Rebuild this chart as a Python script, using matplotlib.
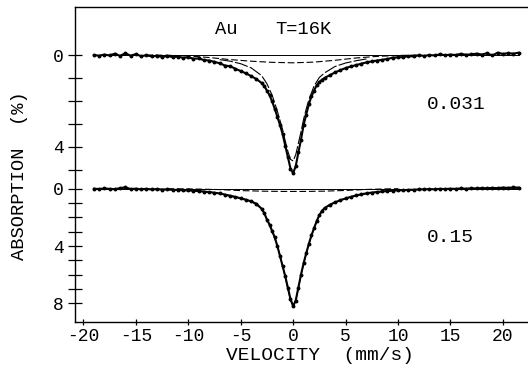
import numpy as np
import matplotlib
matplotlib.use("Agg")
import matplotlib.pyplot as plt

""" ==== DANE ODCZYTANE Z WYKRESU ==== """

# widmo górne (0.031) - prędkość [mm/s], absorpcja [%]
v_up = [-19.0, -18.5, -18.0, -17.5, -17.0, -16.5, -16.0, -15.5, -15.0, -14.5, -14.0, -13.5,
        -13.0, -12.5, -12.0, -11.5, -11.0, -10.5, -10.0, -9.5, -9.0, -8.5, -8.0, -7.5,
        -7.0, -6.5, -6.0, -5.5, -5.0, -4.5, -4.0, -3.5, -3.0, -2.75, -2.5, -2.25, -2.0,
        -1.75, -1.5, -1.25, -1.0, -0.75, -0.5, -0.25, 0.0, 0.25, 0.5, 0.75, 1.0, 1.25,
        1.5, 1.75, 2.0, 2.25, 2.5, 2.75, 3.0, 3.5, 4.0, 4.5, 5.0, 5.5, 6.0, 6.5, 7.0,
        7.5, 8.0, 8.5, 9.0, 9.5, 10.0, 10.5, 11.0, 11.5, 12.0, 12.5, 13.0, 13.5, 14.0,
        14.5, 15.0, 15.5, 16.0, 16.5, 17.0, 17.5, 18.0, 18.5, 19.0, 19.5, 20.0, 20.5,
        21.0, 21.5]
a_up = [0.00, 0.03, -0.02, 0.02, -0.06, 0.04, -0.08, 0.03, -0.04, 0.05, 0.01, 0.06,
        0.03, 0.08, 0.04, 0.09, 0.07, 0.12, 0.10, 0.16, 0.15, 0.22, 0.24, 0.30,
        0.36, 0.46, 0.49, 0.60, 0.70, 0.80, 0.92, 1.05, 1.22, 1.35, 1.55, 1.75, 2.02,
        2.35, 2.70, 3.05, 3.45, 3.95, 4.45, 4.95, 5.15, 4.85, 4.25, 3.70, 3.05, 2.60,
        2.15, 1.80, 1.55, 1.32, 1.18, 1.08, 1.00, 0.88, 0.76, 0.66, 0.57, 0.50, 0.44,
        0.38, 0.32, 0.28, 0.24, 0.21, 0.17, 0.12, 0.10, 0.09, 0.05, 0.06, 0.01, 0.04,
        0.00, 0.02, -0.03, 0.01, -0.02, 0.00, -0.05, -0.01, -0.03, -0.06, -0.02, -0.08,
        0.02, -0.10, -0.05, -0.08, -0.06, -0.10]

# krzywa wąska (linia przerywana długa), górne widmo
v_up_fit = [-7.0, -6.0, -5.0, -4.0, -3.0, -2.5, -2.0, -1.5, -1.25, -1.0, -0.75, -0.5, -0.25,
            0.0, 0.25, 0.5, 0.75, 1.0, 1.25, 1.5, 2.0, 2.5, 3.0, 4.0, 5.0, 6.0, 7.0]
a_up_fit = [0.20, 0.27, 0.38, 0.56, 0.90, 1.25, 1.75, 2.45, 2.85, 3.25, 3.75, 4.20, 4.55,
            4.62, 4.35, 3.85, 3.35, 2.80, 2.35, 1.95, 1.35, 0.98, 0.78, 0.50, 0.35, 0.25, 0.17]

# szeroka składowa (krótkie kreski), górne widmo
v_up_broad = [-14.0, -12.0, -10.0, -8.0, -6.0, -4.0, -2.0, 0.0, 2.0, 4.0, 6.0, 8.0, 10.0, 12.0]
a_up_broad = [0.0, 0.01, 0.04, 0.11, 0.20, 0.27, 0.32, 0.34, 0.31, 0.23, 0.13, 0.06, 0.02, 0.0]

# widmo dolne (0.15)
v_lo = v_up
a_lo = [0.00, 0.02, -0.02, 0.01, 0.03, -0.04, -0.10, 0.02, 0.00, 0.04, 0.01, 0.05,
        0.03, 0.06, 0.05, 0.08, 0.08, 0.11, 0.12, 0.14, 0.17, 0.20, 0.24, 0.28,
        0.33, 0.41, 0.50, 0.58, 0.67, 0.77, 0.88, 1.05, 1.40, 1.70, 2.15, 2.50, 2.95,
        3.40, 4.00, 4.70, 5.40, 6.10, 6.90, 7.70, 8.20, 7.80, 6.90, 6.00, 5.20, 4.50,
        3.85, 3.25, 2.75, 2.25, 1.85, 1.55, 1.35, 1.12, 0.95, 0.80, 0.68, 0.57, 0.47,
        0.39, 0.32, 0.27, 0.23, 0.19, 0.16, 0.13, 0.11, 0.10, 0.08, 0.07, 0.05, 0.04,
        0.03, 0.04, 0.01, 0.02, 0.00, 0.01, -0.02, 0.00, -0.03, -0.02, -0.05, -0.03,
        -0.06, -0.04, -0.08, -0.06, -0.09, -0.08]

v_lo_fit = [-19.0, -12.0, -10.0, -8.0, -6.0, -5.0, -4.0, -3.0, -2.5, -2.0, -1.5, -1.0, -0.75,
            -0.5, -0.25, 0.0, 0.25, 0.5, 0.75, 1.0, 1.5, 2.0, 2.5, 3.0, 4.0, 5.0, 6.0, 8.0,
            10.0, 12.0, 21.5]
a_lo_fit = [0.0, 0.05, 0.10, 0.22, 0.47, 0.65, 0.88, 1.38, 2.10, 2.95, 4.00, 5.40, 6.20,
            7.00, 7.75, 8.15, 7.80, 6.95, 6.05, 5.25, 3.85, 2.75, 1.85, 1.35, 0.95, 0.68,
            0.47, 0.23, 0.11, 0.05, 0.0]

v_lo_broad = [-12.0, -10.0, -7.0, -5.0, -3.0, -1.0, 0.0, 1.0, 3.0, 5.0, 7.0, 9.0, 10.0]
a_lo_broad = [0.0, 0.01, 0.06, 0.13, 0.17, 0.19, 0.19, 0.19, 0.17, 0.12, 0.05, 0.01, 0.0]

up_ticks = [0, 1, 2, 3, 4, 5]
lo_ticks = [0, 1, 2, 3, 4, 5, 6, 7, 8]
x_ticks = [-20, -15, -10, -5, 0, 5, 10, 15, 20]

# przesunięcie i skala widma górnego (w jednostkach widma dolnego)
UP_OFF = -9.33
UP_SCALE = 1.6


def up(a):
    return UP_OFF + UP_SCALE * np.asarray(a)


FONT = "Liberation Mono"
plt.rcParams["font.family"] = [FONT, "DejaVu Sans"]


def main():
    fig = plt.figure(figsize=(5.28, 3.68), dpi=100)
    ax = fig.add_axes([75 / 528, 46 / 368, 453 / 528, 315 / 368])

    # linie bazowe
    ax.plot([v_up[0], v_up[-1]], [UP_OFF, UP_OFF], color="black", lw=0.7)
    ax.plot([v_lo[0], v_lo[-1]], [0, 0], color="black", lw=0.7)

    # widmo górne
    ax.plot(v_up_broad, up(a_up_broad), color="black", lw=0.8, dashes=(6, 2.5))
    ax.plot(v_up_fit, up(a_up_fit), color="black", lw=0.8, dashes=(12, 2))
    ax.plot(v_up, up(a_up), color="black", lw=1.5, marker="o", ms=1.8)

    # widmo dolne
    ax.plot(v_lo_broad, a_lo_broad, color="black", lw=0.8, dashes=(6, 2.5))
    ax.plot(v_lo_fit, a_lo_fit, color="black", lw=0.8)
    ax.plot(v_lo, a_lo, color="black", lw=1.5, marker="o", ms=1.8)

    ax.set_xlim(-20.8, 22.4)
    ax.set_ylim(9.3, -12.68)

    ax.set_xticks(x_ticks)
    ax.set_xticklabels([str(t) for t in x_ticks])
    yt = list(up(up_ticks)) + lo_ticks
    yl = ["0" if t == 0 else ("4" if t == 4 else "") for t in up_ticks]
    yl += [str(t) if t in (0, 4, 8) else "" for t in lo_ticks]
    ax.set_yticks(yt)
    ax.set_yticklabels(yl)

    ax.tick_params(axis="y", direction="inout", length=10, width=0.9, pad=3, labelsize=13)
    ax.tick_params(axis="x", direction="inout", length=5, width=0.9, pad=2, labelsize=13)
    ax.spines["right"].set_visible(False)
    for s in ["left", "bottom", "top"]:
        ax.spines[s].set_linewidth(1.0)

    fig.text(19.5 / 528, 1 - 175.5 / 368, "ABSORPTION  (%)", rotation=90,
             ha="center", va="center", fontsize=13.5)
    fig.text(319.5 / 528, 1 - 356 / 368, "VELOCITY  (mm/s)", ha="center", va="center", fontsize=14)
    fig.text(226 / 528, 1 - 30 / 368, "Au", ha="center", va="center", fontsize=13.5)
    fig.text(303 / 528, 1 - 30 / 368, "T=16K", ha="center", va="center", fontsize=13.5)
    fig.text(456 / 528, 1 - 104.5 / 368, "0.031", ha="center", va="center", fontsize=14)
    fig.text(450 / 528, 1 - 238 / 368, "0.15", ha="center", va="center", fontsize=14)

    fig.savefig("out.png", dpi=100)


if __name__ == "__main__":
    main()
